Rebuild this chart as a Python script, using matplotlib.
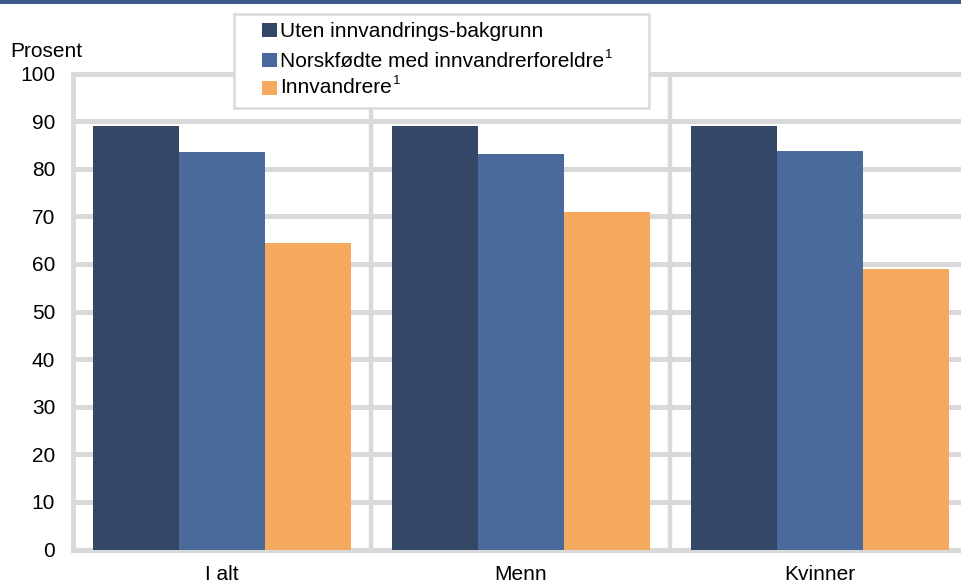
import matplotlib
matplotlib.use("Agg")
import matplotlib.pyplot as plt
import numpy as np
from matplotlib.patches import Rectangle

plt.rcParams['font.family'] = ['Liberation Sans', 'DejaVu Sans']

categories = ["I alt", "Menn", "Kvinner"]
series_names = ["Uten innvandrings-bakgrunn",
                "Norskfødte med innvandrerforeldre",
                "Innvandrere"]
series_notes = ["", "1", "1"]
uten = [89.0, 89.0, 89.0]
norskfodte = [83.5, 83.1, 83.7]
innvandrere = [64.3, 70.9, 58.9]
yticks = [0, 10, 20, 30, 40, 50, 60, 70, 80, 90, 100]
colors = ["#344767", "#4a6a9c", "#f5a95d"]

W, H = 962, 584
FS = 15
GRID = "#d9d9d9"
fig = plt.figure(figsize=(W/100, H/100), dpi=100)

# axes: x from 72.5 px, y from 549.5 (0) to 73.5 (100)
cat_w = 299.0
x0 = 72.5
ax = fig.add_axes([x0/W, 1-549.5/H, (W-x0)/W, 476/H])

x = np.arange(len(categories))
bw = 0.288
for i, (vals, c) in enumerate(zip([uten, norskfodte, innvandrere], colors)):
    ax.bar(x + (i-1)*bw, vals, width=bw, color=c, zorder=3, linewidth=0)

ax.set_ylim(0, 100)
ax.set_xlim(-0.5, -0.5 + (W-x0)/cat_w)
ax.set_yticks(yticks)
ax.set_yticklabels([str(t) for t in yticks], fontsize=FS)
ax.set_xticks(x)
ax.set_xticklabels(categories, fontsize=FS)
ax.tick_params(axis='y', length=0, pad=12.5)
ax.tick_params(axis='x', length=0, pad=11.5)

for t in yticks[1:]:
    ax.axhline(t, color=GRID, lw=3.6, zorder=1, clip_on=False)
for s in [0.5, 1.5, 2.5]:
    ax.axvline(s, color=GRID, lw=3.2, zorder=1)
for sp in ax.spines.values():
    sp.set_visible(False)
ax.axvline(-0.5, color=GRID, lw=3.6, zorder=1, clip_on=False)
ax.axhline(0, color=GRID, lw=3.8, zorder=2, clip_on=False)

def px(xp, yp):
    return xp / W, 1 - yp / H

fig.text(*px(10, 57), "Prosent", fontsize=FS, va='baseline', ha='left')

# top rule
fig.add_artist(Rectangle(px(0, 3.5), 1, 3.5/H, transform=fig.transFigure,
                         facecolor="#3d5a8a", lw=0))

# legend box
lx0, lx1, ly0, ly1 = 234, 649, 14, 108
fig.add_artist(Rectangle(px(lx0, ly1), (lx1-lx0)/W, (ly1-ly0)/H,
                         transform=fig.transFigure, facecolor="white",
                         edgecolor=GRID, lw=1.8, zorder=5))
baselines = [37, 67, 93]
sq_tops = [23, 53, 81]
for name, note, c, bl, st in zip(series_names, series_notes, colors,
                                 baselines, sq_tops):
    fig.add_artist(Rectangle(px(262, st + 14), 15/W, 14/H,
                             transform=fig.transFigure, facecolor=c,
                             lw=0, zorder=6))
    t = fig.text(*px(280, bl), name, fontsize=FS, va='baseline', ha='left',
                 zorder=7)
    if note:
        fig.canvas.draw()
        bb = t.get_window_extent()
        fig.text(bb.x1 / W + 1/W, 1 - (bl - 9) / H, note, fontsize=9.5,
                 va='baseline', ha='left', zorder=7)

fig.savefig("out.png", dpi=100)
